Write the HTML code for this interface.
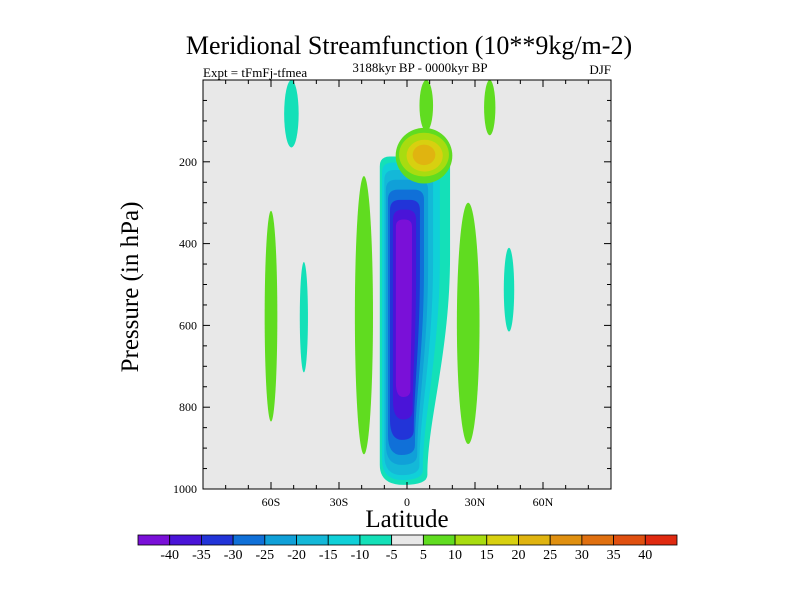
<!DOCTYPE html>
<html><head><meta charset="utf-8"><style>
body{margin:0;background:#fff}
svg{font-family:"Liberation Serif",serif}
</style></head><body>
<svg id="c" width="800" height="600" xmlns="http://www.w3.org/2000/svg">
<rect width="800" height="600" fill="#fff"/>
<text x="409" y="54" font-size="26" text-anchor="middle">Meridional Streamfunction (10**9kg/m-2)</text>
<text x="203" y="77" font-size="13">Expt = tFmFj-tfmea</text>
<text x="420" y="72" font-size="13" text-anchor="middle">3188kyr BP - 0000kyr BP</text>
<text x="611" y="74" font-size="13" text-anchor="end">DJF</text>
<text x="407" y="527" font-size="25" text-anchor="middle">Latitude</text>
<text transform="translate(138,287) rotate(-90)" font-size="25" text-anchor="middle">Pressure (in hPa)</text>
<g id="plot"></g><g id="axes"></g><g id="cbar"></g>
</svg>
<script>
const levels=[-40,-35,-30,-25,-20,-15,-10,-5,5,10,15,20,25,30,35,40];
const colors=["#7a10d8","#4a14d8","#2234d8","#1070d8","#10a0d8","#14b8d8","#10d0d8","#14e0b8","#e8e8e8","#60dc20","#a8dc10","#d8d010","#e0b410","#e09010","#e07010","#e05010","#e02a10"];
const xTicks=[-60,-30,0,30,60];
const xLabels=["60S","30S","0","30N","60N"];
const yTicks=[200,400,600,800,1000];
// main overturning cell contours
const cellLatL=[-12,-11,-10,-9.3,-8.4,-7.5,-6.2,-4.9];
const cellLatRTop=[19,14.5,11.5,9.3,7.5,5.7,4,2.2];
const cellLatRBot=[9,7,5.5,4.5,3.5,3,2.5,1.5];
const cellPTop=[187,202,220,244,268,293,317,341];
const cellPBot=[990,978,966,941,917,880,830,775];
const cellColor=[7,6,5,4,3,2,1,0];
// upper positive cell
const upLat=[7.5,7.5,7.8,7.5];
const upHalf=[12.5,11,8,5];
const upPTop=[117,129,146,158];
const upPBot=[253,236,224,208];
const upColor=[9,10,11,12];
// isolated blobs
const blobLat=[-60,-51,-19,27,36.5,8.5,-45.5,45];
const blobHalf=[2.8,3.2,4,5,2.5,3,1.8,2.3];
const blobPTop=[320,0,235,300,0,0,445,410];
const blobPBot=[835,165,915,890,135,125,715,615];
const blobColor=[9,7,9,9,9,9,7,7];

const X0=203,X1=611,Y0=80,Y1=489;
const xs=l=>X0+(l+90)/180*(X1-X0);
const ys=p=>Y0+p/1000*(Y1-Y0);
const NS="http://www.w3.org/2000/svg";
function mk(t,a,parent){const e=document.createElementNS(NS,t);for(const k in a)e.setAttribute(k,a[k]);parent.appendChild(e);return e;}
const plot=document.getElementById('plot'),axes=document.getElementById('axes'),cb=document.getElementById('cbar');
const bg=mk('rect',{x:X0,y:Y0,width:X1-X0,height:Y1-Y0,fill:"#e8e8e8"},plot);


blobLat.forEach((c,i)=>{
  const cx=xs(c),rx=xs(c+blobHalf[i])-cx,t=ys(blobPTop[i]),b=ys(blobPBot[i]);
  const e=mk('ellipse',{cx:cx,cy:(t+b)/2,rx:rx,ry:(b-t)/2,fill:colors[blobColor[i]]},plot);
  
  
});
cellLatL.forEach((l,i)=>{
  const xl=xs(l),xrt=xs(cellLatRTop[i]),xrb=xs(cellLatRBot[i]),t=ys(cellPTop[i]),b=ys(cellPBot[i]);
  const c=colors[cellColor[i]],h=b-t,r=Math.min(10,(xrb-xl)/2);
  const d=`M${xl},${t+r} Q${xl},${t} ${xl+r},${t} L${xrt-r},${t} Q${xrt},${t} ${xrt},${t+r} L${xrt},${t+h*0.3} C${xrt},${t+h*0.6} ${xrb},${b-h*0.2} ${xrb},${b-r} Q${xrb},${b} ${(xl+xrb)/2},${b} Q${xl},${b} ${xl},${b-r*2} Z`;
  const e=mk('path',{d:d,fill:c},plot);
  
  
});
upLat.forEach((c,i)=>{
  const cx=xs(c),rx=xs(c+upHalf[i])-cx,t=ys(upPTop[i]),b=ys(upPBot[i]);
  const e=mk('ellipse',{cx:cx,cy:(t+b)/2,rx:rx,ry:(b-t)/2,fill:colors[upColor[i]]},plot);
  
  
});
const cp=mk('clipPath',{id:'clp'},document.getElementById('c'));
mk('rect',{x:X0,y:Y0,width:X1-X0,height:Y1-Y0},cp);
plot.setAttribute('clip-path','url(#clp)');
const fr=mk('rect',{x:X0,y:Y0,width:X1-X0,height:Y1-Y0,fill:"none",stroke:"#000","stroke-width":1},axes);


for(let l=-80;l<=80;l+=10){const x=xs(l),maj=l%30==0?7:4;
  mk('line',{x1:x,x2:x,y1:Y1,y2:Y1-maj,stroke:"#000"},axes);mk('line',{x1:x,x2:x,y1:Y0,y2:Y0+maj,stroke:"#000"},axes);}
xTicks.forEach((l,i)=>{const t=mk('text',{x:xs(l),y:Y1+17,"font-size":12,"text-anchor":"middle"},axes);t.textContent=xLabels[i];
  
  });
for(let p=50;p<1000;p+=50){const y=ys(p),maj=p%200==0?7:4;
  mk('line',{x1:X0,x2:X0+maj,y1:y,y2:y,stroke:"#000"},axes);mk('line',{x1:X1,x2:X1-maj,y1:y,y2:y,stroke:"#000"},axes);}
yTicks.forEach(p=>{const t=mk('text',{x:X0-6,y:ys(p)+4,"font-size":12,"text-anchor":"end"},axes);t.textContent=p;
  
  });
const CX0=138,CX1=677,CY=535,CH=10,bw=(CX1-CX0)/colors.length;
colors.forEach((c,i)=>{const r=mk('rect',{x:CX0+i*bw,y:CY,width:bw,height:CH,fill:c,stroke:"#000","stroke-width":0.8},cb);
  
  });
levels.forEach((v,i)=>{const t=mk('text',{x:CX0+(i+1)*bw,y:CY+24,"font-size":14,"text-anchor":"middle"},cb);t.textContent=v;
  
  });
</script>
</body></html>
